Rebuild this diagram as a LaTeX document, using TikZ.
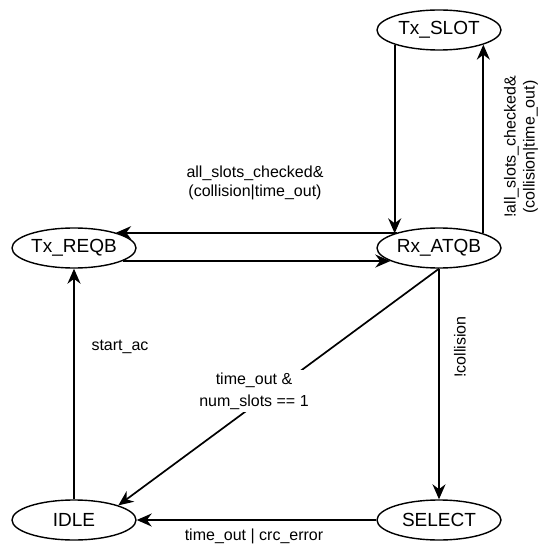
\documentclass[tikz,border=0pt]{standalone}
\usepackage{fontspec}
\setmainfont{Liberation Sans}
\usetikzlibrary{arrows.meta,positioning,shapes}

\begin{document}
\begin{tikzpicture}[x=1pt,y=-1pt,
    state/.style={draw,ellipse,line width=1.4pt,minimum width=124pt,minimum height=40pt,
      inner sep=0pt,font=\fontsize{19}{22}\selectfont},
    lbl/.style={font=\fontsize{16}{19}\selectfont,align=center,inner sep=1pt},
    arr/.style={line width=1.7pt,-{Stealth[length=15pt,width=13pt]}}]
  \useasboundingbox (0,0) rectangle (544,545);
  %states
  \node[state] (txslot) at (439,30) {Tx\_SLOT};
  \node[state] (rxatqb) at (439,248) {Rx\_ATQB};
  \node[state] (txreqb) at (74,248) {Tx\_REQB};
  \node[state] (idle) at (74,520) {IDLE};
  \node[state] (select) at (439,520) {SELECT};
  %vertical
  \draw[arr] (txslot.south west) -- (rxatqb.north west);
  \draw[arr] (rxatqb.north east) -- (txslot.south east);
  \draw[arr] (idle.north) -- (txreqb.south);
  \draw[arr] (rxatqb.south) -- (select.north);
  %horizontal
  \draw[arr] (rxatqb.160) -- (txreqb.20);
  \draw[arr] (txreqb.-15) -- (rxatqb.195);
  \draw[arr] (select.west) -- (idle.east);
  %diagonal
  \draw[arr] (rxatqb.south) -- (idle.north east);
  %labels
  \node[lbl] (lchk) at (255,183) {all\_slots\_checked\&\\(collision|time\_out)};
  \node[lbl,rotate=90] (lnchk) at (521,147) {!all\_slots\_checked\&\\(collision|time\_out)};
  \node[lbl,fill=white,inner sep=3pt] (ltime) at (254,391) {time\_out \&\\[3pt]num\_slots == 1};
  \node[lbl,rotate=90] (lcoll) at (460,347) {!collision};
  \node[lbl] (lstart) at (120,347) {start\_ac};
  \node[lbl,anchor=base] (lerr) at (254,540.5) {time\_out | crc\_error};
\end{tikzpicture}
\end{document}
